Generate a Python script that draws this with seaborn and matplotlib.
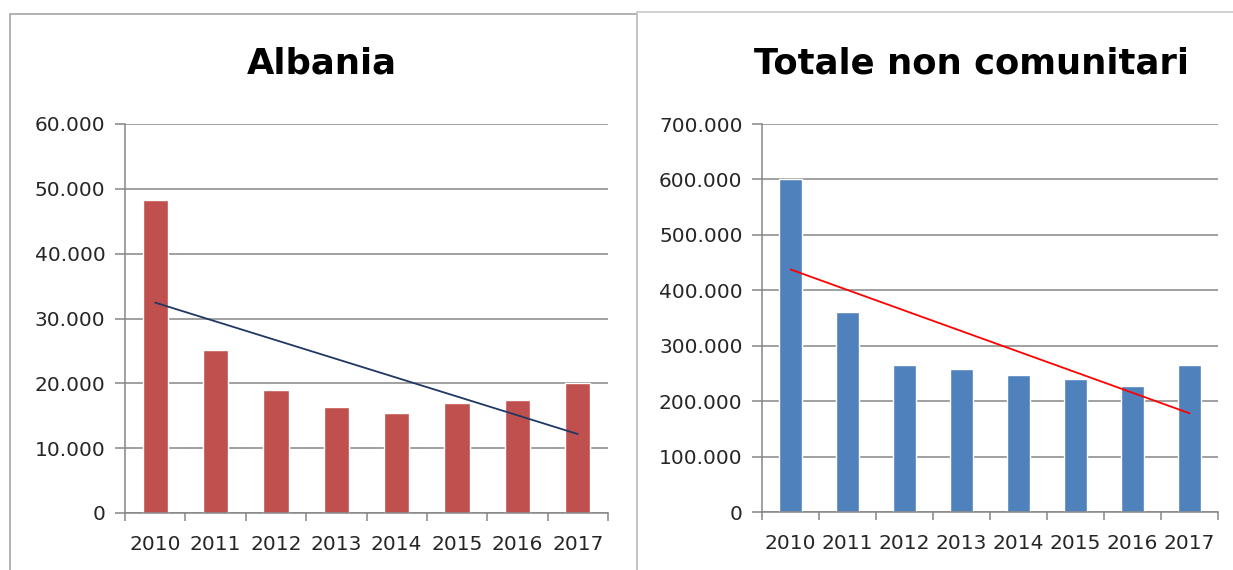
import numpy as np
import pandas as pd
import matplotlib
matplotlib.use("Agg")
import matplotlib.pyplot as plt
from matplotlib.ticker import FuncFormatter, FixedLocator
from matplotlib.patches import Rectangle
import seaborn as sns

years = ["2010", "2011", "2012", "2013", "2014", "2015", "2016", "2017"]
albania = [48300, 25100, 19000, 16300, 15400, 16900, 17500, 20000]
totale = [601500, 361000, 264600, 257400, 246900, 240300, 226500, 264600]

sns.set_theme(style="white")
plt.rcParams['font.family'] = ['DejaVu Sans']

fig = plt.figure(figsize=(12.33, 5.70), dpi=100)
fig.patch.set_facecolor("white")

# panel frames
frame_col = "#a6a6a6"
fig.add_artist(Rectangle((10/1233, -0.01), (637-10)/1233, 1 - 14/570 + 0.01,
                         transform=fig.transFigure, fill=False, ec=frame_col, lw=1.2))
fig.add_artist(Rectangle((637/1233, -0.01), 1.0, 1 - 12/570 + 0.01,
                         transform=fig.transFigure, fill=False, ec="#c8c8c8", lw=1.2))

def fmt(v, pos):
    return f"{int(round(v)):,}".replace(",", ".")

def panel(rect, values, color, trend_color, ymax, step, title, title_x):
    ax = fig.add_axes(rect)
    df = pd.DataFrame({"year": years, "value": values})
    sns.barplot(data=df, x="year", y="value", order=years, color=color,
                saturation=1, width=0.42, ax=ax)
    xs = np.arange(len(years))
    coef = np.polyfit(xs, values, 1)
    ax.plot(xs, np.polyval(coef, xs), color=trend_color, lw=1.3, zorder=5)
    ax.set_xlim(-0.5, len(years) - 0.5)
    ax.set_ylim(0, ymax)
    ax.set_yticks(np.arange(0, ymax + 1, step))
    ax.yaxis.set_major_formatter(FuncFormatter(fmt))
    ax.grid(axis="y", color="#868686", lw=1.1)
    ax.set_axisbelow(True)
    for s in ["top", "right"]:
        ax.spines[s].set_visible(False)
    for s in ["left", "bottom"]:
        ax.spines[s].set_color("#868686")
        ax.spines[s].set_linewidth(1.1)
    ax.set_xlabel("")
    ax.set_ylabel("")
    ax.set_xticks(xs)
    ax.set_xticklabels(years)
    ax.xaxis.set_minor_locator(FixedLocator(np.arange(-0.5, len(years), 1.0)))
    ax.tick_params(axis="x", which="major", length=0, pad=16, labelsize=14.5,
                   labelcolor="#262626")
    ax.tick_params(axis="x", which="minor", length=6, width=1.1, color="#868686",
                   direction="out", bottom=True)
    ax.tick_params(axis="y", length=7, width=1.1, color="#868686", left=True,
                   pad=7, labelsize=14.5, labelcolor="#262626")
    fig.text(title_x, 0.889, title, ha="center", va="center", fontsize=25.5,
             fontweight="bold", color="black")
    return ax

panel([125/1233, 1 - 513/570, (608-125)/1233, (513-124)/570], albania,
      "#C0504D", "#1F3864", 60000, 10000, "Albania", 322/1233)
panel([762/1233, 1 - 512/570, (1218-762)/1233, (512-124)/570], totale,
      "#4F81BD", "#FF0000", 700000, 100000, "Totale non comunitari", 972/1233)

fig.savefig("out.png", dpi=100, facecolor="white")
